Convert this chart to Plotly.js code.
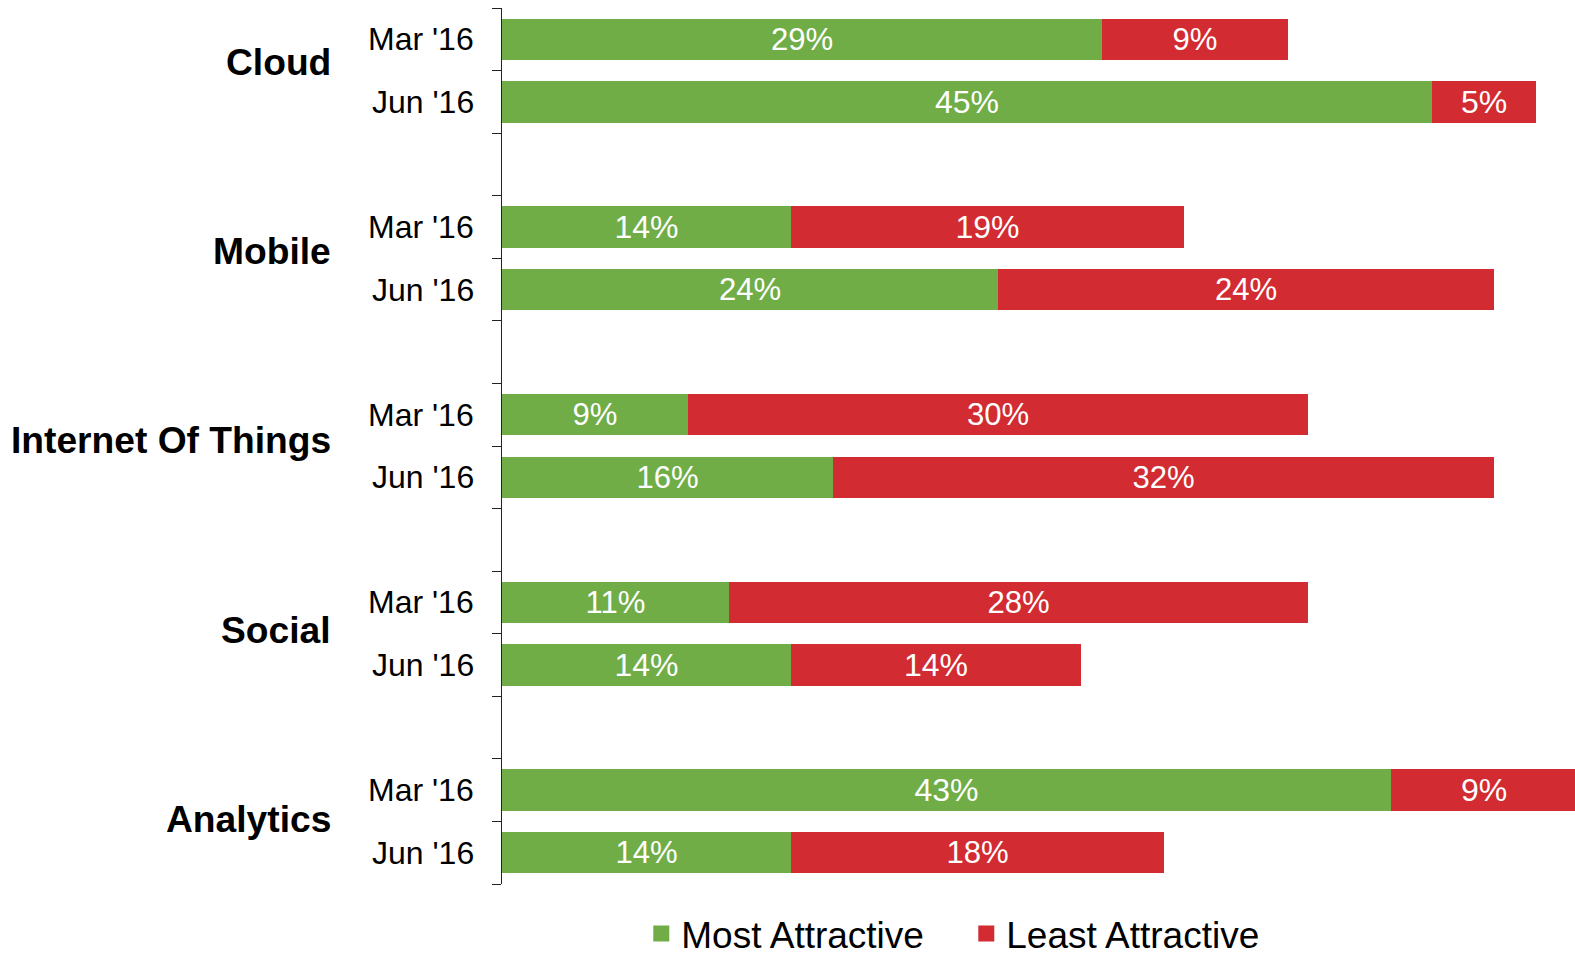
<!DOCTYPE html>
<html>
<head>
<meta charset="utf-8">
<script src="https://cdn.plot.ly/plotly-3.0.1.min.js"></script>
<style>html,body{margin:0;padding:0;background:#fff;}#chart{width:1575px;height:959px;}</style>
</head>
<body>
<div id="chart"></div>
<script>
// ---- data ----
const groups = ['Cloud', 'Mobile', 'Internet Of Things', 'Social', 'Analytics'];
const periods = ["Mar '16", "Jun '16"];
// order: group by group, Mar then Jun
const mostAttractive  = [29, 45, 14, 24,  9, 16, 11, 14, 43, 14];
const leastAttractive = [ 9,  5, 19, 24, 30, 32, 28, 14,  9, 18];
const seriesNames = ['Most Attractive', 'Least Attractive'];
const seriesColors = ['#70AD47', '#D22B31'];

// ---- slot positions (each group takes 2 slots + 1 gap) ----
const ySlots = [];
const slotLabels = [];
groups.forEach((g, gi) => {
  periods.forEach((p, pi) => {
    ySlots.push(gi * 3 + pi);
    slotLabels.push(p);
  });
});
const nSlots = groups.length * 3 - 1;
const boundaries = [];
for (let i = 0; i <= nSlots; i++) boundaries.push(i - 0.5);

const FONT = '"Liberation Sans", Arial, sans-serif';

const traces = [];
[mostAttractive, leastAttractive].forEach((vals, si) => {
  traces.push({
    type: 'bar',
    orientation: 'h',
    name: seriesNames[si],
    legendgroup: 's' + si,
    showlegend: false,
    x: vals,
    y: ySlots,
    width: 0.663,
    marker: { color: seriesColors[si], line: { width: 0 } },
    text: vals.map(v => v + '%'),
    textposition: 'inside',
    insidetextanchor: 'middle',
    textangle: 0,
    textfont: { family: FONT, size: 32, color: '#ffffff' },
    hoverinfo: 'x+name'
  });
});
// legend entries (square swatches) for the two series
seriesNames.forEach((n, si) => {
  traces.push({
    type: 'scatter', mode: 'markers', name: n, legendgroup: 's' + si,
    x: [null], y: [null], showlegend: true, hoverinfo: 'skip',
    marker: { symbol: 'square', size: 18, color: seriesColors[si] }
  });
});

const annotations = [];
ySlots.forEach((y, i) => {
  annotations.push({
    xref: 'paper', yref: 'y', x: 0, y: y,
    xanchor: 'right', yanchor: 'middle', xshift: -26,
    text: slotLabels[i], showarrow: false,
    font: { family: FONT, size: 32, color: '#000' }
  });
});
groups.forEach((g, gi) => {
  annotations.push({
    xref: 'paper', yref: 'y', x: 0, y: gi * 3 + 0.5,
    xanchor: 'right', yanchor: 'middle', xshift: -169, yshift: 9 - 1.6 * gi,
    text: '<b>' + g + '</b>', showarrow: false,
    font: { family: FONT, size: 37.2, color: '#000' }
  });
});

const layout = {
  width: 1575, height: 959,
  margin: { l: 502, r: 0, t: 8, b: 75, pad: 0, autoexpand: false },
  paper_bgcolor: '#fff', plot_bgcolor: '#fff',
  barmode: 'stack',
  bargap: 0,
  showlegend: true,
  legend: {
    orientation: 'h', xref: 'paper', yref: 'paper',
    x: 0.4327, y: -0.0925, xanchor: 'center', yanchor: 'bottom',
    font: { family: FONT, size: 37, color: '#000' },
    traceorder: 'normal', entrywidth: 280, entrywidthmode: 'pixels'
  },
  xaxis: {
    range: [0, 51.9], showgrid: false, zeroline: false, showline: false,
    showticklabels: false, ticks: '', fixedrange: true
  },
  yaxis: {
    range: [nSlots - 0.5, -0.5], tickmode: 'array', tickvals: boundaries,
    ticktext: boundaries.map(() => ''), showticklabels: false,
    ticks: 'outside', ticklen: 9, tickwidth: 1.3, tickcolor: '#222',
    showline: true, linecolor: '#222', linewidth: 1.3,
    showgrid: false, zeroline: false, fixedrange: true
  },
  annotations: annotations,
  font: { family: FONT }
};

Plotly.newPlot('chart', traces, layout, { displayModeBar: false });
</script>
</body>
</html>
